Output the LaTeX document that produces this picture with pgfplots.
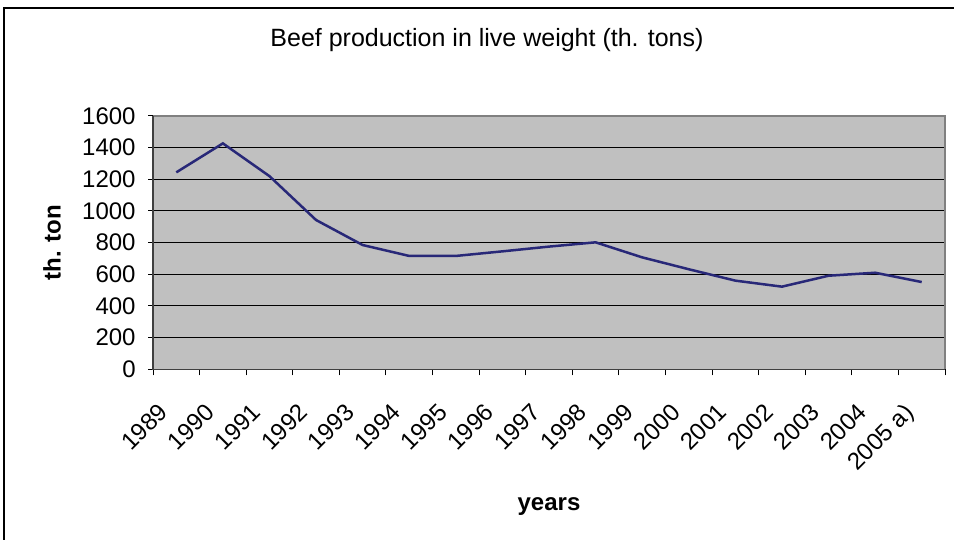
\documentclass[border=0pt]{standalone}
\usepackage{fontspec}
\setmainfont{Liberation Sans}
\usepackage{pgfplots}
\usepackage{pgfplotstable}
\pgfplotsset{compat=1.18}
\definecolor{plotgrey}{RGB}{192,192,192}
\definecolor{navyline}{RGB}{40,40,120}
\definecolor{framegrey}{RGB}{128,128,128}

% beef production, th. tons (x = category centre)
\pgfplotstableread{
x    val
0.5  1244
1.5  1427
2.5  1220
3.5  943
4.5  785
5.5  716
6.5  716
7.5  745
8.5  775
9.5  802
10.5 707
11.5 632
12.5 560
13.5 522
14.5 591
15.5 610
16.5 551
}\beefdata

\begin{document}
\begin{tikzpicture}[x=0.5pt,y=0.5pt]
\useasboundingbox (0,0) rectangle (954,540);
\draw[line width=0.75pt] (4,-20) -- (4,532) -- (990,532);
\node[font=\fontsize{12.5}{15}\selectfont] at (487,500) {Beef production in live weight (th. tons)};
\begin{axis}[
    at={(76.5pt,85.35pt)}, anchor=south west,
    scale only axis, width=396pt, height=126.65pt,
    clip=false,
    xmin=0, xmax=17, ymin=0, ymax=1600,
    xtick={0.5,1.5,...,16.5},
    xticklabels={1989,1990,1991,1992,1993,1994,1995,1996,1997,1998,1999,2000,2001,2002,2003,2004,2005 a)},
    minor xtick={0,1,...,17},
    ytick={0,200,...,1600},
    xtick pos=bottom, ytick pos=left,
    tick align=outside,
    major tick length=2.5pt, minor tick length=3pt,
    tick style={black, line width=0.5pt},
    major x tick style={draw=none},
    ymajorgrids,
    major grid style={black, line width=0.5pt},
    axis background/.style={fill=plotgrey},
    axis line style={draw=none},
    ticklabel style={font=\fontsize{12}{14}\selectfont},
    /pgf/number format/assume math mode=true,
    /pgf/number format/1000 sep={},
    xticklabel style={xshift=-9.5pt, yshift=-13.5pt, rotate=45, anchor=north east, inner sep=0pt},
    yticklabel style={anchor=east, inner sep=0pt, xshift=-6pt},
    xlabel={years},
    xlabel style={font=\bfseries\fontsize{12}{14}\selectfont, at={(axis description cs:0.5,-0.54)}, anchor=center},
    ylabel={th. ton},
    ylabel style={font=\bfseries\fontsize{12}{14}\selectfont, at={(axis description cs:-0.1275,0.5)}, anchor=center},
  ]
  \addplot[navyline, line width=1.25pt, mark=none] table[x=x, y=val] {\beefdata};
  \draw[framegrey, line width=0.75pt] (rel axis cs:0,1) -- (rel axis cs:1,1) -- (rel axis cs:1,0);
  \draw[black!75, line width=0.75pt] (rel axis cs:0,1) -- (rel axis cs:0,0) -- (rel axis cs:1,0);
\end{axis}
\end{tikzpicture}
\end{document}
